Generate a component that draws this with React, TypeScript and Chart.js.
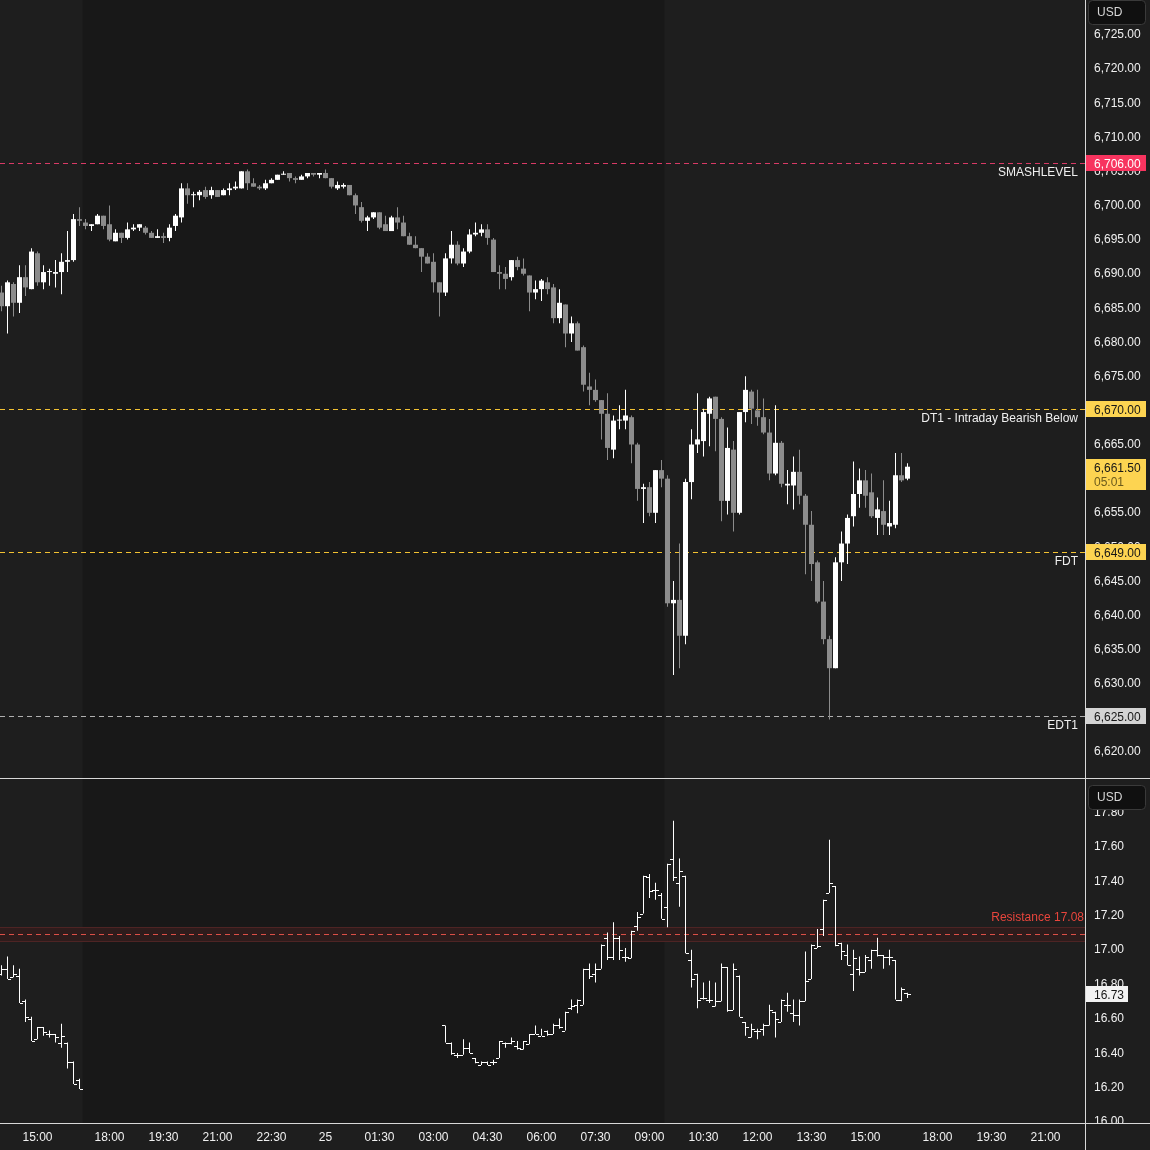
import React, { useEffect, useRef } from "react";
import { Chart, registerables } from "chart.js";

Chart.register(...registerables);

const FONT = "'Liberation Sans', Arial, sans-serif";
const TEXT = "#f0f0f0";
const UP = "#ffffff";
const DOWN = "#8c8c8c";

// ES futures, 10-minute candles; slot 0 = 14:00 (17:00-18:00 break skipped)
const esOpen = [
  6687, 6685, 6688.25, 6685.5, 6689.25, 6687.5, 6692.75, 6688.5, 6690, 6689.75,
  6690, 6691.5, 6691.75, 6697.75, 6697.25, 6696.75, 6697, 6698.25, 6697, 6694.5,
  6695.75, 6695, 6696.25, 6696.5, 6696.5, 6695.75, 6695, 6695.25, 6695, 6696.75,
  6698, 6702.25, 6701.25, 6701.25, 6702, 6701.25, 6702, 6701.25, 6702, 6702.25,
  6702.25, 6704.75, 6703, 6702.5, 6702.25, 6703, 6703.5, 6704.25, 6704.5, 6703.75,
  6703.5, 6704, 6704.5, 6704.25, 6704.5, 6703.75, 6702.25, 6702.5, 6702.75, 6701.25,
  6699.5, 6697.5, 6698, 6698.75, 6697, 6696, 6698, 6697.25, 6695.25, 6694,
  6693.5, 6692.25, 6691.5, 6688.5, 6687, 6692, 6694, 6691.25, 6693, 6695.5,
  6695.75, 6696.25, 6694.75, 6690, 6689.75, 6689.25, 6691.75, 6690.5, 6689.5, 6687,
  6687.5, 6688.5, 6687.75, 6683.25, 6685.25, 6681, 6682.5, 6679, 6673.25, 6672.75,
  6671.25, 6669.25, 6664, 6668.25, 6668.25, 6668.75, 6664.75, 6658.25, 6658.5, 6654.75,
  6661, 6659.75, 6641.5, 6642, 6636.75, 6659.25, 6664.75, 6665.25, 6669.25, 6671.75,
  6668.5, 6656.5, 6664, 6654.75, 6669.5, 6672.5, 6669.75, 6668.75, 6666.5, 6660.5,
  6665, 6658.75, 6658.75, 6660.75, 6657.25, 6653, 6647.5, 6641.75, 6636.25, 6632,
  6647.5, 6650.25, 6654.25, 6657.5, 6659.5, 6657.75, 6654, 6655, 6652.75, 6653,
  6660.25, 6659.75,
];
const esHigh = [
  6688, 6688.75, 6688.5, 6691, 6691, 6693.5, 6693, 6691, 6690.5, 6691.75,
  6692.75, 6696, 6698.5, 6699.5, 6697.75, 6697, 6698.5, 6698.25, 6699.75, 6696.25,
  6695.75, 6697.25, 6697, 6697, 6696.75, 6696, 6696.25, 6695.75, 6697, 6698.5,
  6703, 6703, 6701.75, 6702, 6702.5, 6702.5, 6702, 6702.25, 6703, 6703.25,
  6704.75, 6705, 6703.75, 6702.75, 6703.5, 6703.75, 6704.25, 6704.75, 6704.5, 6704,
  6704.25, 6704.5, 6704.5, 6704.5, 6705, 6703.75, 6703.25, 6703, 6702.75, 6701.5,
  6700.25, 6698.25, 6698.75, 6698.75, 6698.25, 6698.25, 6699.5, 6698.25, 6695.75, 6695.25,
  6693.5, 6692.75, 6692.75, 6688.5, 6692.75, 6696, 6694.5, 6693.5, 6696.25, 6697.25,
  6697, 6697, 6695, 6691, 6690.75, 6691.75, 6692.25, 6692, 6689.5, 6688.75,
  6689, 6689.25, 6688.25, 6687.5, 6685.25, 6683.5, 6682.75, 6679.25, 6675.25, 6674.25,
  6671.25, 6672.25, 6669, 6670.5, 6672.75, 6669, 6665, 6659, 6659.25, 6661,
  6662.5, 6660.25, 6644.75, 6650.25, 6659.75, 6667, 6672.25, 6670, 6671.75, 6671.75,
  6668.75, 6667.25, 6665.25, 6669.5, 6674.75, 6672.75, 6672.75, 6671.5, 6668.5, 6670.5,
  6665.25, 6661, 6663, 6664, 6657.5, 6655, 6647.75, 6644.75, 6636.75, 6648.25,
  6652, 6654.5, 6662.25, 6661.25, 6661, 6660.5, 6657, 6659.5, 6656.5, 6663.5,
  6663.5, 6662,
];
const esLow = [
  6684.25, 6681, 6683.5, 6684, 6686.5, 6687.5, 6688, 6687.5, 6688, 6687.75,
  6686.75, 6690, 6691.5, 6696.75, 6696.25, 6696, 6697, 6696.25, 6694.5, 6694.5,
  6694.25, 6694.75, 6696, 6696, 6695.5, 6695, 6695, 6694.25, 6694.5, 6696,
  6697.25, 6700, 6699.5, 6700.5, 6700.75, 6700.75, 6701, 6701.25, 6701.25, 6702,
  6702.25, 6702, 6702.5, 6702, 6702, 6703, 6703.5, 6704.25, 6703.25, 6703,
  6703.5, 6703.75, 6704, 6703.75, 6703.75, 6702.25, 6702, 6702.25, 6701.25, 6698.5,
  6697.25, 6696, 6697.75, 6696.25, 6696, 6696, 6696.25, 6695.25, 6694, 6693.5,
  6690, 6691.25, 6687, 6683.5, 6686.5, 6691.25, 6691, 6690.75, 6692.75, 6695.25,
  6695.25, 6694, 6690, 6687.5, 6687.5, 6688.75, 6690.25, 6689.5, 6684.25, 6686,
  6685.75, 6686.75, 6682.5, 6682.5, 6679, 6679.75, 6678.5, 6672.5, 6670.5, 6671,
  6665.5, 6662.5, 6662.75, 6667, 6667, 6662, 6656.5, 6653.25, 6654.25, 6653.25,
  6658.5, 6641, 6631, 6632, 6635.5, 6656.75, 6663.5, 6663, 6664.5, 6663.75,
  6653.5, 6654.5, 6652, 6654.5, 6668, 6667.75, 6667.5, 6666.25, 6659.5, 6660.25,
  6658.5, 6656, 6655.25, 6656, 6645.75, 6644.75, 6641.5, 6635.5, 6624.5, 6632,
  6644.75, 6647.25, 6652.75, 6655.5, 6655.5, 6654, 6651.5, 6651.5, 6651.5, 6652.5,
  6659.25, 6659.5,
];
const esClose = [
  6685, 6688.5, 6685.5, 6689.25, 6687.75, 6693, 6688.5, 6690, 6690, 6690,
  6691.5, 6691.75, 6697.75, 6697.5, 6696.75, 6697, 6698.25, 6696.75, 6694.75, 6695.75,
  6695, 6696.25, 6696.5, 6697, 6695.75, 6695, 6695.25, 6695, 6696.5, 6698.25,
  6702.25, 6701.25, 6701.25, 6701.75, 6701, 6702, 6701, 6702, 6702.25, 6702.5,
  6704.75, 6703, 6702.5, 6702.25, 6703, 6703.5, 6704.25, 6704.25, 6703.75, 6703.5,
  6704, 6704.5, 6704.25, 6704.5, 6703.75, 6702.5, 6702.75, 6702.75, 6701.25, 6699.75,
  6697.5, 6698, 6698.75, 6696.5, 6696, 6698, 6697.25, 6695.25, 6694, 6693.5,
  6692.25, 6691.25, 6688.5, 6687, 6692, 6694, 6691.25, 6693, 6695.5, 6695.75,
  6696.25, 6695, 6690, 6689.75, 6689, 6691.75, 6690.75, 6689.75, 6687, 6687.5,
  6688.75, 6687.5, 6683.25, 6685.5, 6681, 6682.5, 6678.5, 6673.5, 6672.75, 6671.25,
  6669.25, 6664.25, 6668.25, 6668.25, 6669, 6664.75, 6658.25, 6658.5, 6654.75, 6661,
  6659.75, 6641.5, 6642, 6636.75, 6659.25, 6664.75, 6665.5, 6669.5, 6671.5, 6668.5,
  6656.5, 6664.25, 6654.75, 6669.5, 6672.75, 6670, 6668.75, 6666.5, 6660.5, 6665,
  6659, 6659, 6660.75, 6657.25, 6653, 6647.25, 6641.75, 6636.25, 6632, 6647.5,
  6650.25, 6654, 6657.5, 6659.5, 6657.25, 6654.25, 6655.25, 6653, 6653.25, 6660.25,
  6659.5, 6661.5,
];

// VIX 10-minute OHLC bars, two sessions (slots 0-13 and 74-151)
const vixSessions = [
  { startSlot: 0, count: 14 },
  { startSlot: 74, count: 78 },
];
const vixOpen = [
  16.85, 16.88, 16.83, 16.84, 16.69, 16.59, 16.47, 16.54, 16.5, 16.5, 16.45, 16.45, 16.34, 16.23,
  16.55, 16.45, 16.38, 16.38, 16.42, 16.36, 16.32, 16.34, 16.34, 16.36,
  16.45, 16.45, 16.43, 16.41, 16.44, 16.5, 16.49, 16.52, 16.5, 16.55,
  16.52, 16.65, 16.67, 16.67, 16.88, 16.85, 16.88, 17.06, 16.95, 17.06,
  16.95, 16.94, 17.13, 17.2, 17.41, 17.34, 17.31, 17.24, 17.52, 17.38,
  17.42, 16.93, 16.85, 16.71, 16.7, 16.66, 16.69, 16.89, 16.64, 16.84,
  16.57, 16.48, 16.52, 16.53, 16.55, 16.63, 16.57, 16.67, 16.62, 16.61,
  16.69, 16.82, 17.0, 17.11, 17.32, 17.36, 17.03, 16.96, 16.85, 16.88,
  16.86, 16.93, 16.99, 16.96, 16.95, 16.93, 16.7, 16.74,
];
const vixHigh = [
  16.9, 16.95, 16.9, 16.88, 16.7, 16.6, 16.54, 16.54, 16.52, 16.5, 16.56, 16.45, 16.34, 16.24,
  16.55, 16.45, 16.39, 16.47, 16.45, 16.36, 16.34, 16.34, 16.35, 16.46,
  16.45, 16.48, 16.46, 16.46, 16.5, 16.55, 16.53, 16.52, 16.56, 16.59,
  16.63, 16.7, 16.7, 16.88, 16.91, 16.91, 17.02, 17.09, 17.15, 17.07,
  17.0, 17.1, 17.21, 17.42, 17.43, 17.38, 17.32, 17.49, 17.74, 17.52,
  17.42, 16.99, 16.85, 16.8, 16.81, 16.8, 16.91, 16.89, 16.91, 16.84,
  16.57, 16.56, 16.53, 16.56, 16.67, 16.63, 16.7, 16.74, 16.7, 16.7,
  16.98, 17.02, 17.11, 17.28, 17.63, 17.36, 17.03, 17.02, 16.99, 16.95,
  16.96, 16.99, 17.06, 16.96, 16.99, 16.93, 16.77, 16.74,
];
const vixLow = [
  16.84, 16.82, 16.83, 16.68, 16.57, 16.46, 16.47, 16.49, 16.48, 16.45, 16.42, 16.3, 16.21, 16.18,
  16.45, 16.38, 16.36, 16.38, 16.39, 16.33, 16.32, 16.32, 16.32, 16.36,
  16.42, 16.44, 16.41, 16.41, 16.44, 16.5, 16.49, 16.49, 16.5, 16.53,
  16.52, 16.64, 16.62, 16.67, 16.82, 16.8, 16.88, 16.93, 16.93, 16.93,
  16.92, 16.94, 17.1, 17.2, 17.29, 17.28, 17.17, 17.12, 17.39, 17.24,
  16.97, 16.77, 16.65, 16.7, 16.68, 16.66, 16.69, 16.63, 16.64, 16.6,
  16.49, 16.48, 16.47, 16.49, 16.55, 16.48, 16.57, 16.63, 16.57, 16.55,
  16.69, 16.82, 17.0, 17.07, 17.32, 17.01, 16.93, 16.9, 16.75, 16.84,
  16.86, 16.88, 16.95, 16.88, 16.9, 16.7, 16.69, 16.71,
];
const vixClose = [
  16.88, 16.82, 16.85, 16.68, 16.6, 16.46, 16.54, 16.51, 16.5, 16.48, 16.49, 16.34, 16.21, 16.18,
  16.45, 16.39, 16.38, 16.42, 16.39, 16.34, 16.34, 16.32, 16.34, 16.46,
  16.45, 16.46, 16.42, 16.46, 16.5, 16.5, 16.49, 16.5, 16.55, 16.54,
  16.63, 16.66, 16.7, 16.88, 16.84, 16.88, 17.02, 16.95, 17.06, 16.99,
  16.95, 17.1, 17.18, 17.42, 17.33, 17.34, 17.17, 17.49, 17.41, 17.45,
  16.97, 16.82, 16.7, 16.71, 16.7, 16.69, 16.89, 16.64, 16.88, 16.6,
  16.54, 16.53, 16.52, 16.55, 16.64, 16.59, 16.7, 16.67, 16.61, 16.69,
  16.81, 17.02, 17.01, 17.28, 17.38, 17.02, 16.98, 16.9, 16.94, 16.86,
  16.95, 16.99, 16.96, 16.95, 16.95, 16.7, 16.76, 16.73,
];

const timeTickSlots = [6, 18, 27, 36, 45, 54, 63, 72, 81, 90, 99, 108, 117, 126, 135, 144, 156, 165, 174];
const timeTickLabels = [
  "15:00", "18:00", "19:30", "21:00", "22:30", "25", "01:30", "03:00", "04:30", "06:00",
  "07:30", "09:00", "10:30", "12:00", "13:30", "15:00", "18:00", "19:30", "21:00",
];
const vixTickValues = [16.0, 16.2, 16.4, 16.6, 16.8, 17.0, 17.2, 17.4, 17.6, 17.8];

const levelNames = ["SMASHLEVEL", "DT1 - Intraday Bearish Below", "FDT", "EDT1"];
const levelValues = [6706, 6670, 6649, 6625];
const levelLineColors = ["#d93a66", "#f3c232", "#f3c232", "#b0b0b0"];
const levelBadgeColors = ["#f7345f", "#fdd451", "#fdd451", "#d4d4d4"];
const levelBadgeText = ["#ffffff", "#161616", "#161616", "#161616"];

const lastPrice = 6661.5;
const lastCountdown = "05:01";
const vixLast = 16.73;
const resistanceValue = 17.08;
const resistanceHalfBand = 0.04;
const resistanceLabel = "Resistance 17.08";

// session shading (overnight session darker)
const ethStartSlot = 13.5;
const ethEndSlot = 110.5;

const SLOT_MIN = -0.25;
const SLOT_MAX = SLOT_MIN + 1085 / 6;
const ES_MAX = 6725 + 33 / 6.83;
const ES_MIN = ES_MAX - 779 / 6.83;
const VIX_MAX = 17 + 169 / 172;
const VIX_MIN = VIX_MAX - 2;

const fmtPrice = (v: number) =>
  v.toLocaleString("en-US", { minimumFractionDigits: 2, maximumFractionDigits: 2 });
const fmtVix = (v: number) => Number(v).toFixed(2);

function vixSlots(): number[] {
  const out: number[] = [];
  vixSessions.forEach((s) => {
    for (let k = 0; k < s.count; k++) out.push(s.startSlot + k);
  });
  return out;
}

function drawBadge(ctx: CanvasRenderingContext2D, x: number, yc: number, w: number, bg: string, fg: string, text: string) {
  const y = Math.round(yc) - 8;
  ctx.fillStyle = bg;
  ctx.fillRect(x, y, w, 16);
  ctx.fillStyle = fg;
  ctx.font = `12px ${FONT}`;
  ctx.textAlign = "left";
  ctx.textBaseline = "middle";
  ctx.fillText(text, x + 8, y + 9.5);
}

function drawUsd(ctx: CanvasRenderingContext2D, x: number, y: number) {
  ctx.save();
  ctx.fillStyle = "#101010";
  ctx.strokeStyle = "#3a3a3a";
  ctx.lineWidth = 1;
  ctx.beginPath();
  (ctx as any).roundRect(x + 0.5, y + 0.5, 57, 24, 4);
  ctx.fill();
  ctx.stroke();
  ctx.fillStyle = "#d6d6d6";
  ctx.font = `12px ${FONT}`;
  ctx.textAlign = "left";
  ctx.textBaseline = "middle";
  ctx.fillText("USD", x + 9, y + 13);
  ctx.restore();
}

function drawYTicks(chart: any, fmt: (v: number) => string) {
  const { ctx, chartArea: ca, scales } = chart;
  ctx.save();
  ctx.fillStyle = TEXT;
  ctx.font = `12px ${FONT}`;
  ctx.textAlign = "left";
  ctx.textBaseline = "middle";
  scales.y.ticks.forEach((t: any) => {
    const y = scales.y.getPixelForValue(t.value);
    ctx.fillText(fmt(t.value), ca.right + 9, y + 2);
  });
  ctx.restore();
}

function shade(chart: any) {
  const { ctx, chartArea: ca, scales } = chart;
  ctx.save();
  ctx.fillStyle = "#1e1e1e";
  ctx.fillRect(0, 0, chart.width, chart.height);
  const x0 = scales.x.getPixelForValue(ethStartSlot);
  const x1 = scales.x.getPixelForValue(ethEndSlot);
  ctx.fillStyle = "#181818";
  ctx.fillRect(x0, ca.top, x1 - x0, ca.bottom - ca.top);
  ctx.restore();
}

const topPlugin = {
  id: "topDecor",
  beforeDraw(chart: any) {
    shade(chart);
  },
  beforeDatasetsDraw(chart: any) {
    const { ctx, chartArea: ca, scales } = chart;
    ctx.save();
    ctx.lineWidth = 1;
    ctx.setLineDash([5, 4]);
    levelValues.forEach((v, i) => {
      const y = Math.round(scales.y.getPixelForValue(v)) + 0.5;
      ctx.strokeStyle = levelLineColors[i];
      ctx.beginPath();
      ctx.moveTo(ca.left, y);
      ctx.lineTo(ca.right, y);
      ctx.stroke();
    });
    ctx.restore();
  },
  afterDatasetsDraw(chart: any) {
    const { ctx, chartArea: ca, scales } = chart;
    ctx.save();
    ctx.fillStyle = TEXT;
    ctx.font = `12px ${FONT}`;
    ctx.textAlign = "right";
    ctx.textBaseline = "middle";
    levelValues.forEach((v, i) => {
      const y = scales.y.getPixelForValue(v);
      ctx.fillText(levelNames[i], ca.right - 7, y + 10);
    });
    ctx.restore();
    drawYTicks(chart, fmtPrice);
  },
  afterDraw(chart: any) {
    const { ctx, chartArea: ca, scales } = chart;
    ctx.save();
    const bx = ca.right + 1;
    levelValues.forEach((v, i) => {
      drawBadge(ctx, bx, scales.y.getPixelForValue(v), 60, levelBadgeColors[i], levelBadgeText[i], fmtPrice(v));
    });
    // last price with countdown
    const yl = Math.round(scales.y.getPixelForValue(lastPrice));
    ctx.fillStyle = "#fdd451";
    ctx.fillRect(bx, yl - 8, 60, 31);
    ctx.fillStyle = "#161616";
    ctx.font = `12px ${FONT}`;
    ctx.textAlign = "left";
    ctx.textBaseline = "middle";
    ctx.fillText(fmtPrice(lastPrice), bx + 8, yl + 2);
    ctx.fillStyle = "#6b5a1c";
    ctx.fillText(lastCountdown, bx + 8, yl + 16);
    drawUsd(ctx, ca.right + 3, 0);
    ctx.fillStyle = "#d8d8d8";
    ctx.fillRect(ca.right, 0, 1, chart.height);
    ctx.fillRect(0, chart.height - 1, chart.width, 1);
    ctx.restore();
  },
};

const bottomPlugin = {
  id: "bottomDecor",
  beforeDraw(chart: any) {
    shade(chart);
  },
  beforeDatasetsDraw(chart: any) {
    const { ctx, chartArea: ca, scales } = chart;
    const yt = Math.round(scales.y.getPixelForValue(resistanceValue + resistanceHalfBand));
    const yb = Math.round(scales.y.getPixelForValue(resistanceValue - resistanceHalfBand));
    ctx.save();
    ctx.fillStyle = "#2e1c1c";
    ctx.fillRect(ca.left, yt, ca.right - ca.left, yb - yt);
    ctx.fillStyle = "#4e2424";
    ctx.fillRect(ca.left, yt, ca.right - ca.left, 1);
    ctx.fillRect(ca.left, yb, ca.right - ca.left, 1);
    const ym = Math.round(scales.y.getPixelForValue(resistanceValue)) + 0.5;
    ctx.strokeStyle = "#dd4f47";
    ctx.lineWidth = 1;
    ctx.setLineDash([5, 4]);
    ctx.beginPath();
    ctx.moveTo(ca.left, ym);
    ctx.lineTo(ca.right, ym);
    ctx.stroke();
    ctx.restore();
  },
  afterDatasetsDraw(chart: any) {
    const { ctx, chartArea: ca, scales } = chart;
    const meta = chart.getDatasetMeta(0);
    ctx.save();
    ctx.fillStyle = "#ffffff";
    meta.data.forEach((el: any, i: number) => {
      const cx = Math.floor(el.x);
      const yo = Math.round(scales.y.getPixelForValue(vixOpen[i]));
      const yc = Math.round(scales.y.getPixelForValue(vixClose[i]));
      ctx.fillRect(cx - 3, yo, 3, 1);
      ctx.fillRect(cx + 1, yc, 3, 1);
    });
    const yt = scales.y.getPixelForValue(resistanceValue + resistanceHalfBand);
    ctx.fillStyle = "#e8453c";
    ctx.font = `12px ${FONT}`;
    ctx.textAlign = "right";
    ctx.textBaseline = "middle";
    ctx.fillText(resistanceLabel, ca.right - 1, yt - 10);
    ctx.restore();
    drawYTicks(chart, fmtVix);
  },
  afterDraw(chart: any) {
    const { ctx, chartArea: ca, scales } = chart;
    ctx.save();
    ctx.fillStyle = "#1e1e1e";
    ctx.fillRect(ca.right + 1, ca.bottom + 1, chart.width - ca.right, chart.height - ca.bottom);
    drawBadge(ctx, ca.right + 1, scales.y.getPixelForValue(vixLast), 42, "#f2f2f2", "#161616", fmtVix(vixLast));
    drawUsd(ctx, ca.right + 3, 6);
    ctx.fillStyle = "#d8d8d8";
    ctx.fillRect(ca.right, 0, 1, chart.height);
    ctx.fillRect(0, ca.bottom, chart.width, 1);
    ctx.restore();
  },
};

function topConfig(): any {
  const slots = esOpen.map((_, i) => i);
  const colors = slots.map((i) => (esClose[i] >= esOpen[i] ? UP : DOWN));
  return {
    type: "bar",
    data: {
      datasets: [
        {
          data: slots.map((i) => ({ x: i, y: [esLow[i], esHigh[i]] })),
          backgroundColor: colors,
          barThickness: 1,
          grouped: false,
          inflateAmount: 0,
          borderWidth: 0,
        },
        {
          data: slots.map((i) => ({ x: i, y: [esOpen[i], esClose[i]] })),
          backgroundColor: colors,
          barThickness: 5,
          minBarLength: 1,
          grouped: false,
          inflateAmount: 0,
          borderWidth: 0,
        },
      ],
    },
    options: {
      animation: false,
      responsive: false,
      devicePixelRatio: 1,
      events: [],
      layout: { padding: 0 },
      plugins: { legend: { display: false }, tooltip: { enabled: false } },
      scales: {
        x: { type: "linear", min: SLOT_MIN, max: SLOT_MAX, display: false, offset: false },
        y: {
          position: "right",
          min: ES_MIN,
          max: ES_MAX,
          grid: { display: false, drawTicks: false },
          border: { display: false },
          ticks: { display: false, stepSize: 5, includeBounds: false },
          afterFit: (s: any) => {
            s.width = 65;
            s.paddingTop = 0;
            s.paddingBottom = 0;
          },
        },
      },
    },
    plugins: [topPlugin],
  };
}

function bottomConfig(): any {
  const slots = vixSlots();
  return {
    type: "bar",
    data: {
      datasets: [
        {
          data: slots.map((s, i) => ({ x: s, y: [vixLow[i], vixHigh[i]] })),
          backgroundColor: "#ffffff",
          barThickness: 1,
          minBarLength: 1,
          grouped: false,
          inflateAmount: 0,
          borderWidth: 0,
        },
      ],
    },
    options: {
      animation: false,
      responsive: false,
      devicePixelRatio: 1,
      events: [],
      layout: { padding: 0 },
      plugins: { legend: { display: false }, tooltip: { enabled: false } },
      scales: {
        x: {
          type: "linear",
          min: SLOT_MIN,
          max: SLOT_MAX,
          offset: false,
          grid: { display: false, drawTicks: false },
          border: { display: false },
          afterBuildTicks: (s: any) => {
            s.ticks = timeTickSlots.map((v) => ({ value: v }));
          },
          ticks: {
            autoSkip: false,
            maxRotation: 0,
            padding: 7,
            color: TEXT,
            font: { family: FONT, size: 12 },
            callback: (_v: number, idx: number) => timeTickLabels[idx],
          },
          afterFit: (s: any) => {
            s.height = 27;
            s.paddingLeft = 0;
            s.paddingRight = 0;
          },
        },
        y: {
          position: "right",
          min: VIX_MIN,
          max: VIX_MAX,
          grid: { display: false, drawTicks: false },
          border: { display: false },
          afterBuildTicks: (s: any) => {
            s.ticks = vixTickValues.map((v) => ({ value: v }));
          },
          ticks: { display: false },
          afterFit: (s: any) => {
            s.width = 65;
            s.paddingTop = 0;
            s.paddingBottom = 0;
          },
        },
      },
    },
    plugins: [bottomPlugin],
  };
}

export default function App() {
  const topRef = useRef<HTMLCanvasElement>(null);
  const botRef = useRef<HTMLCanvasElement>(null);
  useEffect(() => {
    const c1 = new Chart(topRef.current as HTMLCanvasElement, topConfig());
    const c2 = new Chart(botRef.current as HTMLCanvasElement, bottomConfig());
    return () => {
      c1.destroy();
      c2.destroy();
    };
  }, []);
  return (
    <div
      style={{
        position: "absolute",
        left: 0,
        top: 0,
        width: 1150,
        height: 1150,
        background: "#1e1e1e",
        overflow: "hidden",
      }}
    >
      <canvas
        ref={topRef}
        width={1150}
        height={779}
        style={{ position: "absolute", left: 0, top: 0, width: 1150, height: 779, display: "block" }}
      />
      <canvas
        ref={botRef}
        width={1150}
        height={371}
        style={{ position: "absolute", left: 0, top: 779, width: 1150, height: 371, display: "block" }}
      />
    </div>
  );
}
